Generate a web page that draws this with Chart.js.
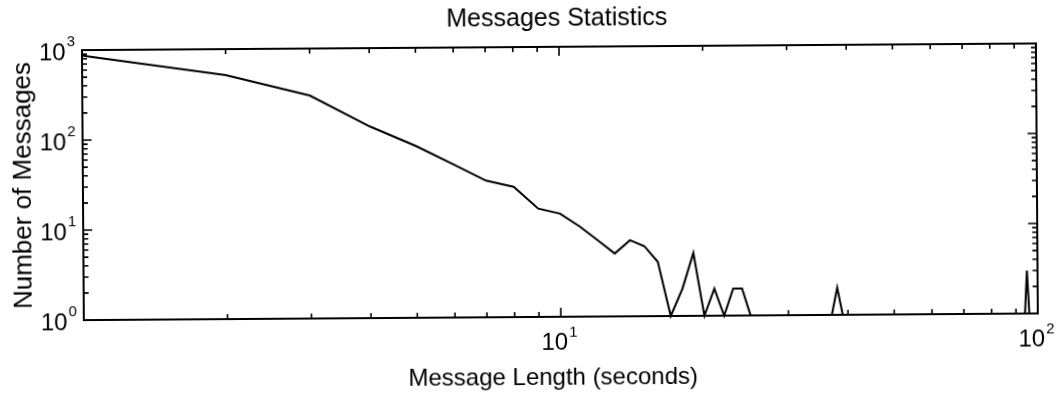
<!DOCTYPE html>
<html>
<head>
<meta charset="utf-8">
<script src="https://cdn.jsdelivr.net/npm/chart.js@4.4.1/dist/chart.umd.min.js"></script>
<style>
  html, body { margin: 0; padding: 0; background: #fff; }
  #wrap { width: 1060px; height: 395px; transform: rotate(-0.4deg); transform-origin: 50% 50%; }
  canvas { display: block; }
</style>
</head>
<body>
<div id="wrap"><canvas id="chart" width="1060" height="395"></canvas></div>
<script>
// Message length in seconds (x) and number of messages of that length (y)
const messageLengths = [
  1, 2, 3, 4, 5, 6, 7, 8, 9, 10,
  11, 12, 13, 14, 15, 16, 17, 18, 19, 20,
  21, 22, 23, 24, 25, 26, 27, 28, 29, 30,
  31, 32, 33, 34, 35, 36, 37, 38, 39, 40,
  41, 42, 43, 44, 45, 46, 47, 48, 49, 50,
  51, 52, 53, 54, 55, 56, 57, 58, 59, 60,
  61, 62, 63, 64, 65, 66, 67, 68, 69, 70,
  71, 72, 73, 74, 75, 76, 77, 78, 79, 80,
  81, 82, 83, 84, 85, 86, 87, 88, 89, 90,
  91, 92, 93, 94, 95, 96, 97, 98, 99, 100
];
const messageCounts = [
  867, 515, 300, 135, 81, 50, 33, 28, 16, 14,
  10, 7, 5, 7, 6, 4, 1, 2, 5, 1,
  2, 1, 2, 2, 1, 1, 1, 1, 1, 1,
  1, 1, 1, 1, 1, 1, 1, 2, 1, 1,
  1, 1, 1, 1, 1, 1, 1, 1, 1, 1,
  1, 1, 1, 1, 1, 1, 1, 1, 1, 1,
  1, 1, 1, 1, 1, 1, 1, 1, 1, 1,
  1, 1, 1, 1, 1, 1, 1, 1, 1, 1,
  1, 1, 1, 1, 1, 1, 1, 1, 1, 1,
  1, 1, 1, 1, 3, 1, 1, 1, 1, 1
];

// Axis ranges and tick positions
const xRange = [1, 100];
const yRange = [1, 1000];
const xMajorTicks = [1, 10, 100];
const xMinorTicks = [2, 3, 4, 5, 6, 7, 8, 9, 20, 30, 40, 50, 60, 70, 80, 90];
const yMajorTicks = [1, 10, 100, 1000];
const yMinorTicks = [2, 3, 4, 5, 6, 7, 8, 9, 20, 30, 40, 50, 60, 70, 80, 90,
                     200, 300, 400, 500, 600, 700, 800, 900];

// Tick labels: base "10" with a raised exponent
const xLabelValues = [10, 100];
const xLabelExponents = ['1', '2'];
const yLabelValues = [1, 10, 100, 1000];
const yLabelExponents = ['0', '1', '2', '3'];

const chartTitle = 'Messages Statistics';
const xAxisTitle = 'Message Length (seconds)';
const yAxisTitle = 'Number of Messages';

const FONT = '"Liberation Sans", Arial, Helvetica, sans-serif';

// Box, inward ticks, tick labels and titles drawn from the chart's scales
const axesFrame = {
  id: 'axesFrame',
  afterDraw(chart) {
    const ctx = chart.ctx;
    const a = chart.chartArea;
    const xs = chart.scales.x;
    const ys = chart.scales.y;
    ctx.save();
    ctx.strokeStyle = '#000';
    ctx.fillStyle = '#000';
    ctx.lineWidth = 2;
    ctx.strokeRect(a.left, a.top, a.right - a.left, a.bottom - a.top);

    const tickX = (v, len) => {
      const p = xs.getPixelForValue(v);
      ctx.beginPath();
      ctx.moveTo(p, a.bottom); ctx.lineTo(p, a.bottom - len);
      ctx.moveTo(p, a.top); ctx.lineTo(p, a.top + len);
      ctx.stroke();
    };
    const tickY = (v, len) => {
      const p = ys.getPixelForValue(v);
      ctx.beginPath();
      ctx.moveTo(a.left, p); ctx.lineTo(a.left + len, p);
      ctx.moveTo(a.right, p); ctx.lineTo(a.right - len, p);
      ctx.stroke();
    };
    ctx.lineWidth = 1.6;
    xMinorTicks.forEach(v => tickX(v, 5));
    xMajorTicks.forEach(v => tickX(v, 9));
    yMinorTicks.forEach(v => tickY(v, 5));
    yMajorTicks.forEach(v => tickY(v, 9));

    const baseFont = '24px ' + FONT;
    const expFont = '15px ' + FONT;
    ctx.textBaseline = 'alphabetic';

    // x tick labels
    xLabelValues.forEach((v, i) => {
      const p = xs.getPixelForValue(v);
      ctx.font = baseFont;
      const w1 = ctx.measureText('10').width;
      ctx.font = expFont;
      const w2 = ctx.measureText(xLabelExponents[i]).width;
      const start = p - (w1 + w2) / 2 - 2;
      ctx.textAlign = 'left';
      ctx.font = baseFont;
      ctx.fillText('10', start, a.bottom + 33);
      ctx.font = expFont;
      ctx.fillText(xLabelExponents[i], start + w1 + 1, a.bottom + 20);
    });

    // y tick labels
    yLabelValues.forEach((v, i) => {
      const p = ys.getPixelForValue(v);
      const right = a.left - 7;
      ctx.font = expFont;
      const w2 = ctx.measureText(yLabelExponents[i]).width;
      ctx.textAlign = 'right';
      ctx.fillText(yLabelExponents[i], right, p - 4);
      ctx.font = baseFont;
      ctx.fillText('10', right - w2 - 1, p + 10);
    });

    // titles
    ctx.textAlign = 'center';
    ctx.font = '25px ' + FONT;
    ctx.fillText(chartTitle, 558, 26);
    ctx.font = '24px ' + FONT;
    ctx.fillText(xAxisTitle, 552, 385);
    ctx.save();
    ctx.translate(31, (a.top + a.bottom) / 2);
    ctx.rotate(-Math.PI / 2);
    ctx.font = '26px ' + FONT;
    ctx.fillText(yAxisTitle, 0, 0);
    ctx.restore();

    ctx.restore();
  }
};

new Chart(document.getElementById('chart'), {
  type: 'line',
  data: {
    datasets: [{
      data: messageLengths.map((x, i) => ({ x: x, y: messageCounts[i] })),
      borderColor: '#000',
      borderWidth: 2,
      pointRadius: 0,
      tension: 0,
      fill: false,
      clip: false
    }]
  },
  options: {
    responsive: false,
    animation: false,
    layout: { padding: { left: 83, top: 47, right: 23, bottom: 78 } },
    plugins: { legend: { display: false }, tooltip: { enabled: false }, title: { display: false } },
    scales: {
      x: { type: 'logarithmic', min: xRange[0], max: xRange[1], display: false },
      y: { type: 'logarithmic', min: yRange[0], max: yRange[1], display: false }
    }
  },
  plugins: [axesFrame]
});
</script>
</body>
</html>
